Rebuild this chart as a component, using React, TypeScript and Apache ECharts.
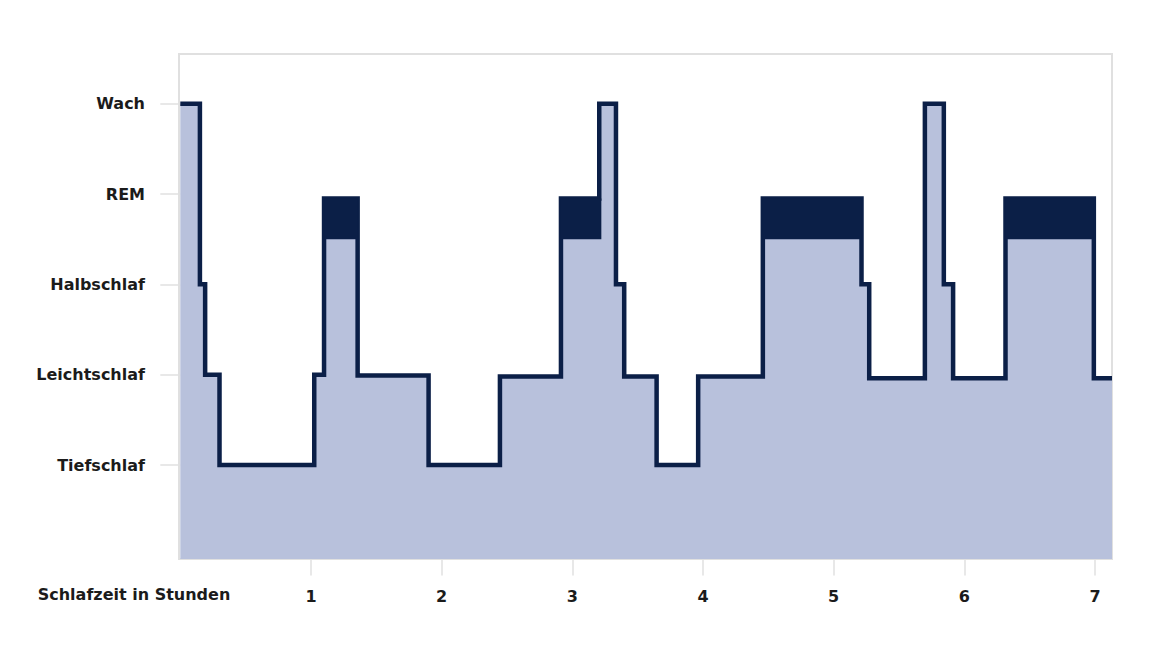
import React, { useEffect, useRef } from "react";
import * as echarts from "echarts";

// Hypnogram: time (hours) at which each stage starts, and the stage level
const hours = [0, 0.15, 0.19, 0.30, 1.025, 1.10, 1.357, 1.90, 2.446, 2.913, 3.206, 3.334, 3.397, 3.645, 3.963, 4.458, 5.213, 5.272, 5.698, 5.843, 5.914, 6.315, 6.991, 7.13];
const stages = [5, 3, 2, 1, 2, 3.95, 1.99, 1, 1.98, 3.95, 5, 3, 1.98, 1, 1.98, 3.95, 3, 1.96, 5, 3, 1.96, 3.95, 1.96, 1.96];

// REM phases (dark band)
const remStart = [1.10, 2.913, 4.458, 6.315];
const remEnd = [1.357, 3.222, 5.213, 6.991];
const remTop = 3.95;
const remBandBottom = 3.5;

const stageLabels = ["Tiefschlaf", "Leichtschlaf", "Halbschlaf", "REM", "Wach"];
const stageTicks = [1, 2, 3, 4, 5];
const hourTicks = [1, 2, 3, 4, 5, 6, 7];
const xTitle = "Schlafzeit in Stunden";

const NAVY = "#0b1f47";
const FILL = "#b8c1dc";
const GRAY = "#e0e0e0";
const FONT = "DejaVu Sans";

export default function App() {
  const ref = useRef<HTMLDivElement>(null);
  useEffect(() => {
    if (!ref.current) return;
    const chart = echarts.init(ref.current, null, { renderer: "svg" });
    const lineData = hours.map((h, i) => [h, stages[i]]);
    const remData = remStart.map((s, i) => [s, remEnd[i]]);
    chart.setOption({
      animation: false,
      backgroundColor: "#ffffff",
      grid: {
        left: 179,
        right: 45,
        top: 54,
        bottom: 91,
        show: true,
        borderColor: GRAY,
        borderWidth: 2,
        backgroundColor: "transparent",
      },
      xAxis: {
        type: "value",
        min: -0.01,
        max: 7.13,
        splitLine: { show: false },
        axisLine: { show: false },
        axisTick: {
          show: true,
          length: 20,
          customValues: hourTicks,
          lineStyle: { color: GRAY, width: 1.5 },
        },
        axisLabel: {
          customValues: hourTicks,
          margin: 29,
          color: "#1b1b1b",
          fontFamily: FONT,
          fontWeight: "bold",
          fontSize: 16,
        },
      },
      yAxis: {
        type: "value",
        min: -0.04,
        max: 5.55,
        splitLine: { show: false },
        axisLine: { show: false },
        axisTick: {
          show: true,
          length: 20,
          customValues: stageTicks,
          lineStyle: { color: GRAY, width: 1.5 },
        },
        axisLabel: {
          customValues: stageTicks,
          margin: 34,
          color: "#1b1b1b",
          fontFamily: FONT,
          fontWeight: "bold",
          fontSize: 16,
          formatter: (v: number) => stageLabels[Math.round(v) - 1] ?? "",
        },
      },
      graphic: [
        {
          type: "text",
          x: 134,
          y: 594,
          style: {
            text: xTitle,
            fill: "#1b1b1b",
            font: `bold 16px "${FONT}"`,
            textAlign: "center",
            textVerticalAlign: "middle",
          },
        },
      ],
      series: [
        {
          type: "line",
          step: "end",
          data: lineData,
          showSymbol: false,
          symbol: "none",
          z: 2,
          lineStyle: { color: NAVY, width: 4.5, join: "miter", cap: "butt" },
          areaStyle: { color: FILL, opacity: 1, origin: "start" },
        },
        {
          type: "custom",
          z: 3,
          data: remData,
          encode: { x: [0, 1] },
          renderItem: (params: any, api: any) => {
            const p0 = api.coord([api.value(0), remTop]);
            const p1 = api.coord([api.value(1), remBandBottom]);
            return {
              type: "rect",
              shape: { x: p0[0], y: p0[1], width: p1[0] - p0[0], height: p1[1] - p0[1] },
              style: { fill: NAVY },
            };
          },
        },
      ],
    });
    return () => chart.dispose();
  }, []);
  return <div ref={ref} style={{ position: "fixed", left: 0, top: 0, width: 1157, height: 650 }} />;
}
